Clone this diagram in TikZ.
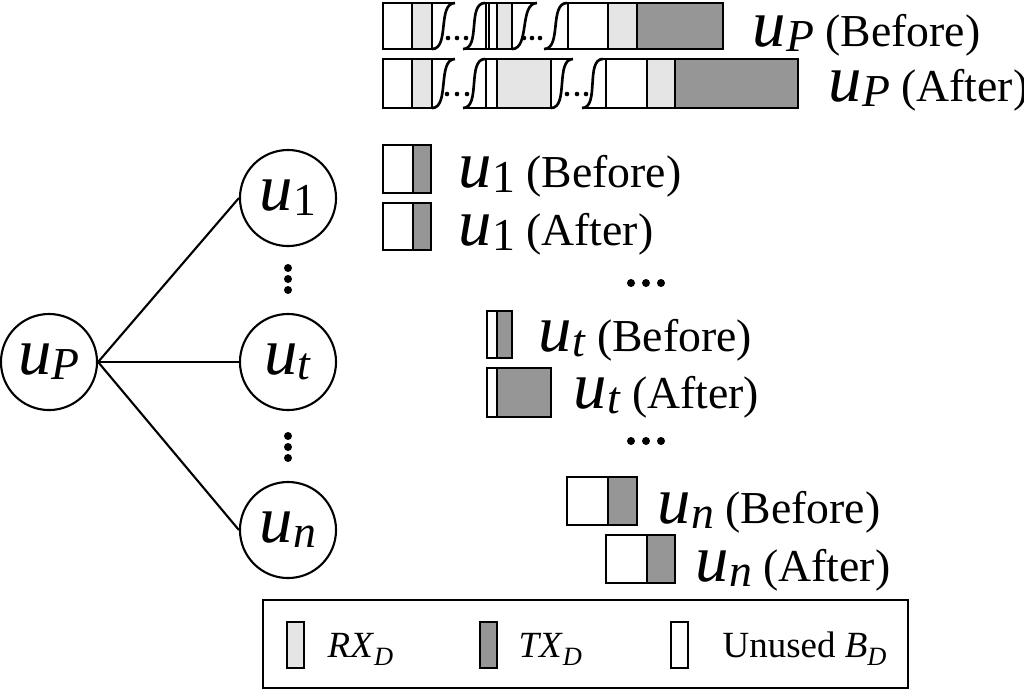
\documentclass[tikz,border=0pt]{standalone}
\usepackage{fontspec}
\setmainfont{Liberation Serif}
\usepackage{tikz}
\usetikzlibrary{calc}
\definecolor{rxgray}{gray}{0.9}
\definecolor{txgray}{gray}{0.59}
\newcommand\uu[1]{{\fontsize{19}{19}\selectfont\itshape u}\raisebox{-1.5pt}{#1}}
\newcommand\lowsub[1]{\raisebox{-2.5pt}{\fontsize{7.5}{8}\selectfont\itshape #1}}
\tikzset{
  user/.style={circle,draw,line width=.6pt,minimum size=.96cm,inner sep=0pt,font=\fontsize{13}{15}\selectfont},
  cell/.style={draw,line width=.75pt},
  free/.style={cell,fill=white},
  rx/.style={cell,fill=rxgray},
  tx/.style={cell,fill=txgray},
  lab/.style={anchor=base west,inner sep=0pt,font=\fontsize{13}{15}\selectfont},
  key/.style={anchor=base west,inner sep=0pt,font=\fontsize{10.5}{12}\selectfont}
}
\begin{document}
\begin{tikzpicture}[x=0.01cm,y=-0.01cm]
\useasboundingbox(0,0)rectangle(1024,690);
%users
\node[user](uP)at(49,362){\uu{\textit{P}}};
\node[user](u1)at(288,198){\uu{1}};
\node[user](ut)at(288,362){\uu{\textit{t}}};
\node[user](un)at(288,530){\uu{\textit{n}}};
\draw[line width=.6pt](uP.east)--(u1.west);
\draw[line width=.6pt](uP.east)--(ut.west);
\draw[line width=.6pt](uP.east)--(un.west);
\foreach \y in {268,279,290,436,447,458}{
\fill(288,\y)circle(4);
}
%frame of u_P, before
\draw[free](383,3)rectangle(412,49);
\draw[rx](412,3)rectangle(432,49);
\draw[line width=.75pt](432,3)--(455,3);
\draw[line width=.75pt](463,49)--(486,49);
\draw[free](486,3)rectangle(489,49);
\draw[free](489,3)rectangle(497,49);
\draw[rx](497,3)rectangle(512,49);
\draw[line width=.75pt](512,3)--(537,3);
\draw[line width=.75pt](544,49)--(568,49);
\draw[free](568,3)rectangle(608,49);
\draw[rx](608,3)rectangle(637,49);
\draw[tx](637,3)rectangle(723,49);
%frame of u_P, after
\draw[free](383,59)rectangle(412,108);
\draw[rx](412,59)rectangle(432,108);
\draw[line width=.75pt](432,59)--(455,59);
\draw[line width=.75pt](463,108)--(486,108);
\draw[free](486,59)rectangle(497,108);
\draw[rx](497,59)rectangle(551,108);
\draw[line width=.75pt](551,59)--(573,59);
\draw[line width=.75pt](582,108)--(606,108);
\draw[line width=.75pt](603,59)--(606,59);
\draw[free](606,59)rectangle(647,108);
\draw[rx](647,59)rectangle(675,108);
\draw[tx](675,59)rectangle(798,108);
%breaks
\foreach \a/\b/\yb/\yt in {432/455/49/3,463/485/49/3,512/537/49/3,544/567/49/3,
432/455/108/59,463/485/108/59,551/573/108/59,582/603/108/59}{
\draw[line width=.75pt](\a,\yb)..controls(\a+18,\yb)and(\b-18,\yt)..(\b,\yt);
}
\foreach \x/\y in {448/38,457/38,466/38,524/38,532/38,540/38,
447/94,457/94,467/94,567/94,577/94,586/94}{
\fill(\x,\y)circle(2.3);
}
%frames of u_1, u_t, u_n
\draw[free](383,145)rectangle(413,193);
\draw[tx](413,145)rectangle(431,193);
\draw[free](383,203)rectangle(413,250);
\draw[tx](413,203)rectangle(431,250);
\draw[free](487,311)rectangle(497,358);
\draw[tx](497,311)rectangle(512,358);
\draw[free](487,368)rectangle(497,417);
\draw[tx](497,368)rectangle(551,417);
\draw[free](567,477)rectangle(608,525);
\draw[tx](608,477)rectangle(637,525);
\draw[free](606,535)rectangle(647,583);
\draw[tx](647,535)rectangle(675,583);
\foreach \x in {631,646,661}{
\fill(\x,283)circle(4);
\fill(\x,441)circle(4);
}
%labels
\node[lab](lpb)at(752,46){\uu{\textit{P}} (Before)};
\node[lab](lpa)at(828,101){\uu{\textit{P}} (After)};
\node[lab](l1b)at(458,187){\uu{1} (Before)};
\node[lab](l1a)at(458,245){\uu{1} (After)};
\node[lab](ltb)at(538,351){\uu{\textit{t}} (Before)};
\node[lab](lta)at(573,408){\uu{\textit{t}} (After)};
\node[lab](lnb)at(657,523){\uu{\textit{n}} (Before)};
\node[lab](lna)at(695,581){\uu{\textit{n}} (After)};
%legend
\draw[line width=.6pt](263,600)rectangle(908,688);
\draw[rx](287,622)rectangle(304,668);
\node[key](krx)at(327,657){\textit{RX}\lowsub{D}};
\draw[tx](480,622)rectangle(497,668);
\node[key](ktx)at(518,657){\textit{TX}\lowsub{D}};
\draw[free](671,622)rectangle(688,668);
\node[key](kun)at(722,657){Unused \textit{B}\lowsub{D}};
\end{tikzpicture}
\end{document}
